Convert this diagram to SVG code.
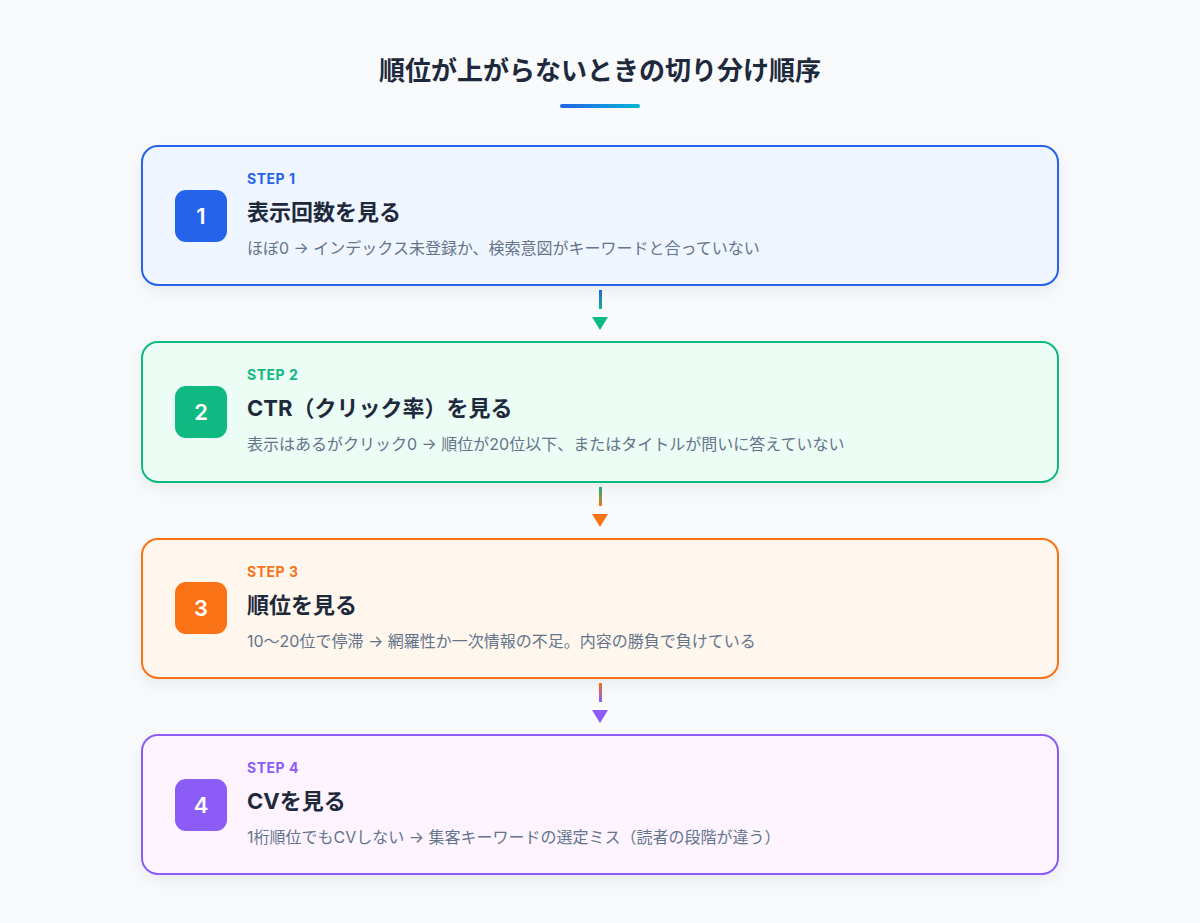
<svg xmlns="http://www.w3.org/2000/svg" width="1200" height="923" viewBox="0 0 1200 923">
<style>
text{font-family:"Inter","Noto Sans CJK JP","Noto Sans",sans-serif}
.t{font-size:26px;font-weight:700;fill:#1e293b}
.s{font-size:14px;font-weight:700;letter-spacing:0.5px}
.h{font-size:22px;font-weight:700;fill:#1e293b}
.d{font-size:16px;fill:#64748b}
.n{font-size:22px;font-weight:600;fill:#fff}
.box{stroke-width:2}
</style>
<defs>
<linearGradient id="ul" x1="0" x2="1"><stop offset="0" stop-color="#2563eb"/><stop offset="1" stop-color="#06b6d4"/></linearGradient>
<linearGradient id="g1" x1="0" y1="0" x2="0" y2="1"><stop offset="0" stop-color="#2563eb"/><stop offset="1" stop-color="#10b981"/></linearGradient>
<linearGradient id="g2" x1="0" y1="0" x2="0" y2="1"><stop offset="0" stop-color="#10b981"/><stop offset="1" stop-color="#f97316"/></linearGradient>
<linearGradient id="g3" x1="0" y1="0" x2="0" y2="1"><stop offset="0" stop-color="#f97316"/><stop offset="1" stop-color="#8b5cf6"/></linearGradient>
<filter id="sh" x="-10%" y="-20%" width="120%" height="150%"><feDropShadow dx="0" dy="6" stdDeviation="8" flood-color="#0f172a" flood-opacity="0.06"/></filter>
</defs>
<rect width="1200" height="923" fill="#f8fafc"/>
<text class="t" x="600" y="80" text-anchor="middle">順位が上がらないときの切り分け順序</text>
<rect x="560" y="104" width="80" height="4" rx="2" fill="url(#ul)"/>
<g id="connectors">
<rect x="599" y="290" width="3" height="19" fill="url(#g1)"/><path d="M592 317h16l-8 13z" fill="#10b981"/>
<rect x="599" y="487" width="3" height="19" fill="url(#g2)"/><path d="M592 514h16l-8 13z" fill="#f97316"/>
<rect x="599" y="683" width="3" height="19" fill="url(#g3)"/><path d="M592 710h16l-8 13z" fill="#8b5cf6"/>
</g>
<g id="step1">
<rect class="box" x="142" y="146" width="916" height="139" rx="16" fill="#eff6ff" stroke="#2563eb" filter="url(#sh)"/>
<rect x="175" y="190" width="52" height="52" rx="11" fill="#2563eb"/>
<text class="n" x="201" y="224" text-anchor="middle">1</text>
<text class="s" x="247" y="184" fill="#2563eb">STEP 1</text>
<text class="h" x="247" y="220">表示回数を見る</text>
<text class="d" x="247" y="254">ほぼ0 → インデックス未登録か、検索意図がキーワードと合っていない</text>
</g>
<g id="step2">
<rect class="box" x="142" y="342" width="916" height="140" rx="16" fill="#ecfdf5" stroke="#10b981" filter="url(#sh)"/>
<rect x="175" y="386" width="52" height="52" rx="11" fill="#10b981"/>
<text class="n" x="201" y="420" text-anchor="middle">2</text>
<text class="s" x="247" y="380" fill="#10b981">STEP 2</text>
<text class="h" x="247" y="416">CTR（クリック率）を見る</text>
<text class="d" x="247" y="450">表示はあるがクリック0 → 順位が20位以下、またはタイトルが問いに答えていない</text>
</g>
<g id="step3">
<rect class="box" x="142" y="539" width="916" height="139" rx="16" fill="#fff7ed" stroke="#f97316" filter="url(#sh)"/>
<rect x="175" y="582" width="52" height="52" rx="11" fill="#f97316"/>
<text class="n" x="201" y="616" text-anchor="middle">3</text>
<text class="s" x="247" y="577" fill="#f97316">STEP 3</text>
<text class="h" x="247" y="613">順位を見る</text>
<text class="d" x="247" y="647">10〜20位で停滞 → 網羅性か一次情報の不足。内容の勝負で負けている</text>
</g>
<g id="step4">
<rect class="box" x="142" y="735" width="916" height="139" rx="16" fill="#fdf4ff" stroke="#8b5cf6" filter="url(#sh)"/>
<rect x="175" y="779" width="52" height="52" rx="11" fill="#8b5cf6"/>
<text class="n" x="201" y="813" text-anchor="middle">4</text>
<text class="s" x="247" y="773" fill="#8b5cf6">STEP 4</text>
<text class="h" x="247" y="809">CVを見る</text>
<text class="d" x="247" y="843">1桁順位でもCVしない → 集客キーワードの選定ミス（読者の段階が違う）</text>
</g>
</svg>
